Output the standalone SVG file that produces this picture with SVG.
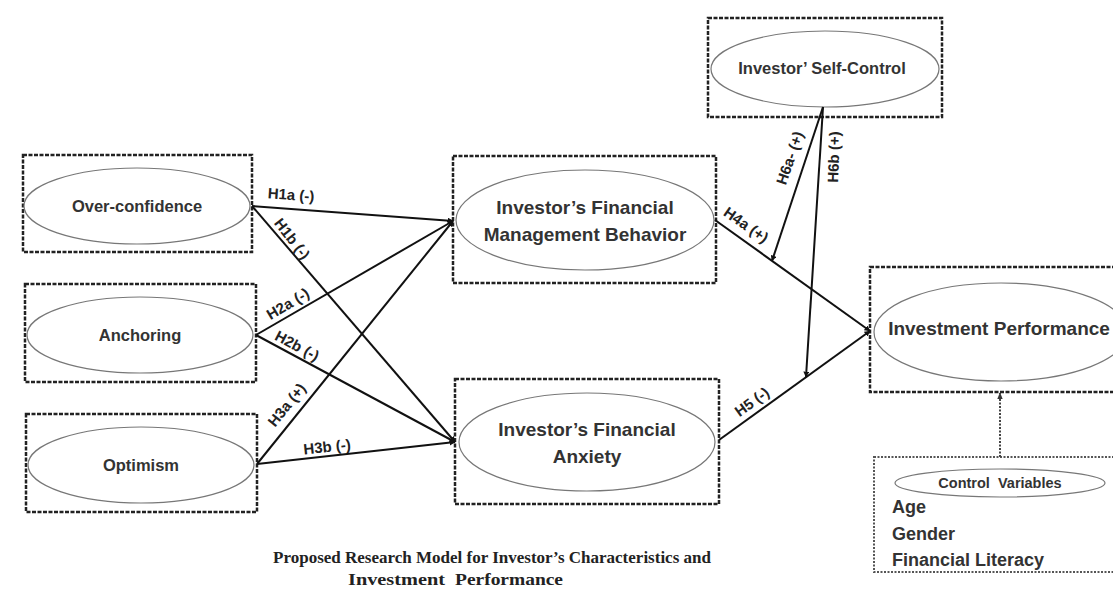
<svg xmlns="http://www.w3.org/2000/svg" width="1113" height="594" viewBox="0 0 1113 594">
<defs>
<marker id="arr" viewBox="0 0 10 10" refX="9" refY="5" markerWidth="6" markerHeight="6" orient="auto" markerUnits="userSpaceOnUse">
<path d="M0,0 L10,5 L0,10 z" fill="#111"/>
</marker>
<marker id="arrd" viewBox="0 0 10 10" refX="9" refY="5" markerWidth="7" markerHeight="7" orient="auto" markerUnits="userSpaceOnUse">
<path d="M0,1 L10,5 L0,9 z" fill="#333"/>
</marker>
</defs>
<style>
.box{fill:none;stroke:#222;stroke-width:2.5;stroke-dasharray:4 1.5}
.cbox{fill:none;stroke:#555;stroke-width:2;stroke-dasharray:2 1.5}
.ell{fill:#fff;stroke:#777;stroke-width:1.2}
.nt{font-family:"Liberation Sans",Arial,sans-serif;font-weight:bold;fill:#333;text-anchor:middle}
.st{font-family:"Liberation Sans",Arial,sans-serif;font-weight:bold;fill:#333;text-anchor:start;font-size:18px}
.lbl{font-family:"Liberation Sans",Arial,sans-serif;font-weight:bold;fill:#222;font-size:15px;text-anchor:middle}
.edge{stroke:#111;stroke-width:2;fill:none}
.cap{font-family:"Liberation Serif","Times New Roman",serif;font-weight:bold;fill:#222;font-size:17px}
</style>
<rect width="1113" height="594" fill="#fff"/>

<g id="overconfidence">
<rect class="box" x="23" y="155" width="229" height="97"/>
<ellipse class="ell" cx="137" cy="206" rx="113" ry="38"/>
<text class="nt" x="137" y="212" font-size="16.5">Over-confidence</text>
</g>
<g id="anchoring">
<rect class="box" x="25" y="284" width="231" height="98"/>
<ellipse class="ell" cx="140" cy="335" rx="113" ry="38"/>
<text class="nt" x="140" y="341" font-size="16.5">Anchoring</text>
</g>
<g id="optimism">
<rect class="box" x="26" y="414" width="231" height="98"/>
<ellipse class="ell" cx="141" cy="465" rx="113" ry="38"/>
<text class="nt" x="141" y="471" font-size="16.5">Optimism</text>
</g>
<g id="management">
<rect class="box" x="453" y="156" width="263" height="127"/>
<ellipse class="ell" cx="585" cy="220" rx="129" ry="50"/>
<text class="nt" x="585" y="214" font-size="19">Investor’s Financial</text>
<text class="nt" x="585" y="241" font-size="19">Management Behavior</text>
</g>
<g id="anxiety">
<rect class="box" x="455" y="379" width="264" height="125"/>
<ellipse class="ell" cx="587" cy="442" rx="128" ry="49"/>
<text class="nt" x="587" y="436" font-size="19">Investor’s Financial</text>
<text class="nt" x="587" y="463" font-size="19">Anxiety</text>
</g>
<g id="selfcontrol">
<rect class="box" x="708" y="18" width="234" height="99"/>
<ellipse class="ell" cx="825" cy="69" rx="114" ry="38"/>
<text class="nt" x="822" y="74" font-size="16.5">Investor’ Self-Control</text>
</g>
<g id="performance">
<rect class="box" x="870" y="267" width="263" height="125"/>
<ellipse class="ell" cx="1001" cy="332" rx="127" ry="49"/>
<text class="nt" x="999" y="335" font-size="19">Investment Performance</text>
</g>
<g id="controls">
<rect class="cbox" x="874" y="457" width="260" height="115"/>
<ellipse class="ell" cx="1000" cy="483" rx="105" ry="14"/>
<text class="nt" x="1000" y="488" font-size="14.5" xml:space="preserve">Control  Variables</text>
<text class="st" x="892" y="513">Age</text>
<text class="st" x="892" y="540">Gender</text>
<text class="st" x="892" y="566">Financial Literacy</text>
</g>

<g id="connectors">
<line class="edge" x1="252" y1="206" x2="453" y2="221" marker-end="url(#arr)"/>
<line class="edge" x1="252" y1="206" x2="455" y2="442" marker-end="url(#arr)"/>
<line class="edge" x1="256" y1="335" x2="453" y2="221" marker-end="url(#arr)"/>
<line class="edge" x1="256" y1="335" x2="455" y2="442" marker-end="url(#arr)"/>
<line class="edge" x1="257" y1="464" x2="453" y2="221" marker-end="url(#arr)"/>
<line class="edge" x1="257" y1="464" x2="455" y2="442" marker-end="url(#arr)"/>
<line class="edge" x1="715" y1="220" x2="870" y2="331" marker-end="url(#arr)"/>
<line class="edge" x1="719" y1="440" x2="870" y2="331" marker-end="url(#arr)"/>
<line class="edge" x1="823" y1="107" x2="772" y2="261" marker-end="url(#arr)"/>
<line class="edge" x1="823" y1="107" x2="806" y2="377" marker-end="url(#arr)"/>
<line x1="1000" y1="457" x2="1000" y2="393" stroke="#444" stroke-width="2" stroke-dasharray="2 1.5" marker-end="url(#arrd)"/>
<text class="lbl" x="291" y="200" transform="rotate(4 291 196)">H1a (-)</text>
<text class="lbl" x="292" y="244" transform="rotate(52 292 239)">H1b (-)</text>
<text class="lbl" x="288" y="309" transform="rotate(-31 288 304)">H2a (-)</text>
<text class="lbl" x="297" y="351" transform="rotate(28 297 346)">H2b (-)</text>
<text class="lbl" x="287" y="410" transform="rotate(-51 287 405)">H3a (+)</text>
<text class="lbl" x="327" y="452" transform="rotate(-6 327 447)">H3b (-)</text>
<text class="lbl" x="746" y="230" transform="rotate(35 746 225)">H4a (+)</text>
<text class="lbl" x="752" y="407" transform="rotate(-36 752 402)">H5 (-)</text>
<text class="lbl" x="790" y="163" transform="rotate(-71 790 158)">H6a- (+)</text>
<text class="lbl" x="834" y="162" transform="rotate(-88 834 157)">H6b (+)</text>
</g>

<g id="caption">
<text class="cap" x="492" y="563" text-anchor="middle">Proposed Research Model for Investor’s Characteristics and</text>
<text class="cap" x="348" y="585" textLength="97" lengthAdjust="spacingAndGlyphs">Investment</text>
<text class="cap" x="455" y="585" textLength="108" lengthAdjust="spacingAndGlyphs">Performance</text>
</g>
</svg>
